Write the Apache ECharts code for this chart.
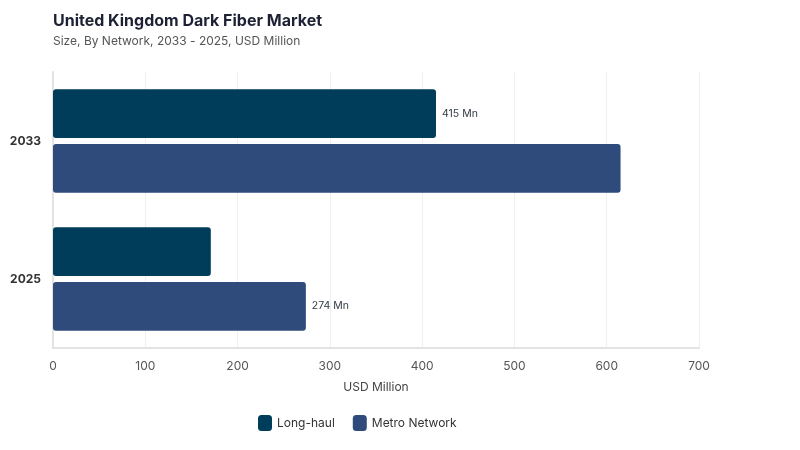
<!DOCTYPE html>
<html>
<head>
<meta charset="utf-8">
<script src="https://cdn.jsdelivr.net/npm/echarts@6/dist/echarts.min.js"></script>
<style>
html,body{margin:0;padding:0;background:#fff;}
#chart{width:800px;height:450px;}
</style>
</head>
<body>
<div id="chart"></div>
<script>
var categories = ['2033', '2025'];
var seriesNames = ['Long-haul', 'Metro Network'];
var longHaul = [415, 171];
var metro = [615, 274];
var labelShown = { 'Long-haul': [true, false], 'Metro Network': [false, true] };
var xTicks = { min: 0, max: 700, interval: 100 };
var colors = ['#003d5b', '#2f4b7c'];

var chart = echarts.init(document.getElementById('chart'));
function mkData(name, vals) {
  return vals.map(function (v, i) {
    return {
      value: v,
      label: {
        show: labelShown[name][i],
        position: 'right',
        formatter: '{c} Mn',
        color: '#333a45',
        fontSize: 10.5,
        fontFamily: 'Inter',
        distance: 6
      }
    };
  });
}
chart.setOption({
  animation: false,
  backgroundColor: '#ffffff',
  title: {
    text: 'United Kingdom Dark Fiber Market',
    subtext: 'Size, By Network, 2033 - 2025, USD Million',
    left: 48, top: 8,
    itemGap: 6,
    textStyle: { fontFamily: 'Inter', fontWeight: 'bold', fontSize: 16, color: '#1e2133' },
    subtextStyle: { fontFamily: 'Inter', fontSize: 12, color: '#555' }
  },
  legend: {
    bottom: 14, left: 253,
    itemWidth: 14, itemHeight: 16, itemGap: 18,
    icon: 'roundRect',
    textStyle: { fontFamily: 'Inter', fontSize: 12, color: '#333' },
    data: seriesNames
  },
  grid: { left: 53, right: 101, top: 72, bottom: 102, containLabel: false },
  xAxis: {
    type: 'value',
    min: xTicks.min, max: xTicks.max, interval: xTicks.interval,
    name: 'USD Million', nameLocation: 'middle', nameGap: 33,
    nameTextStyle: { fontFamily: 'Inter', fontSize: 12, color: '#444' },
    axisLine: { show: true, lineStyle: { color: '#e3e3e3', width: 2 } },
    axisTick: { show: false },
    axisLabel: { fontFamily: 'Inter', fontSize: 12, color: '#555', margin: 12 },
    splitLine: { show: true, lineStyle: { color: '#efefef' } }
  },
  yAxis: {
    type: 'category',
    inverse: true,
    data: categories,
    axisLine: { show: true, lineStyle: { color: '#e3e3e3', width: 2 } },
    axisTick: { show: false },
    axisLabel: { fontFamily: 'Inter', fontSize: 12, fontWeight: 'bold', color: '#333', margin: 12 }
  },
  series: [
    {
      name: seriesNames[0], type: 'bar', data: mkData(seriesNames[0], longHaul),
      itemStyle: { color: colors[0], borderRadius: 3 },
      barGap: '12%', barCategoryGap: '25%'
    },
    {
      name: seriesNames[1], type: 'bar', data: mkData(seriesNames[1], metro),
      itemStyle: { color: colors[1], borderRadius: 3 },
      barGap: '12%', barCategoryGap: '25%'
    }
  ]
});
</script>
</body>
</html>
